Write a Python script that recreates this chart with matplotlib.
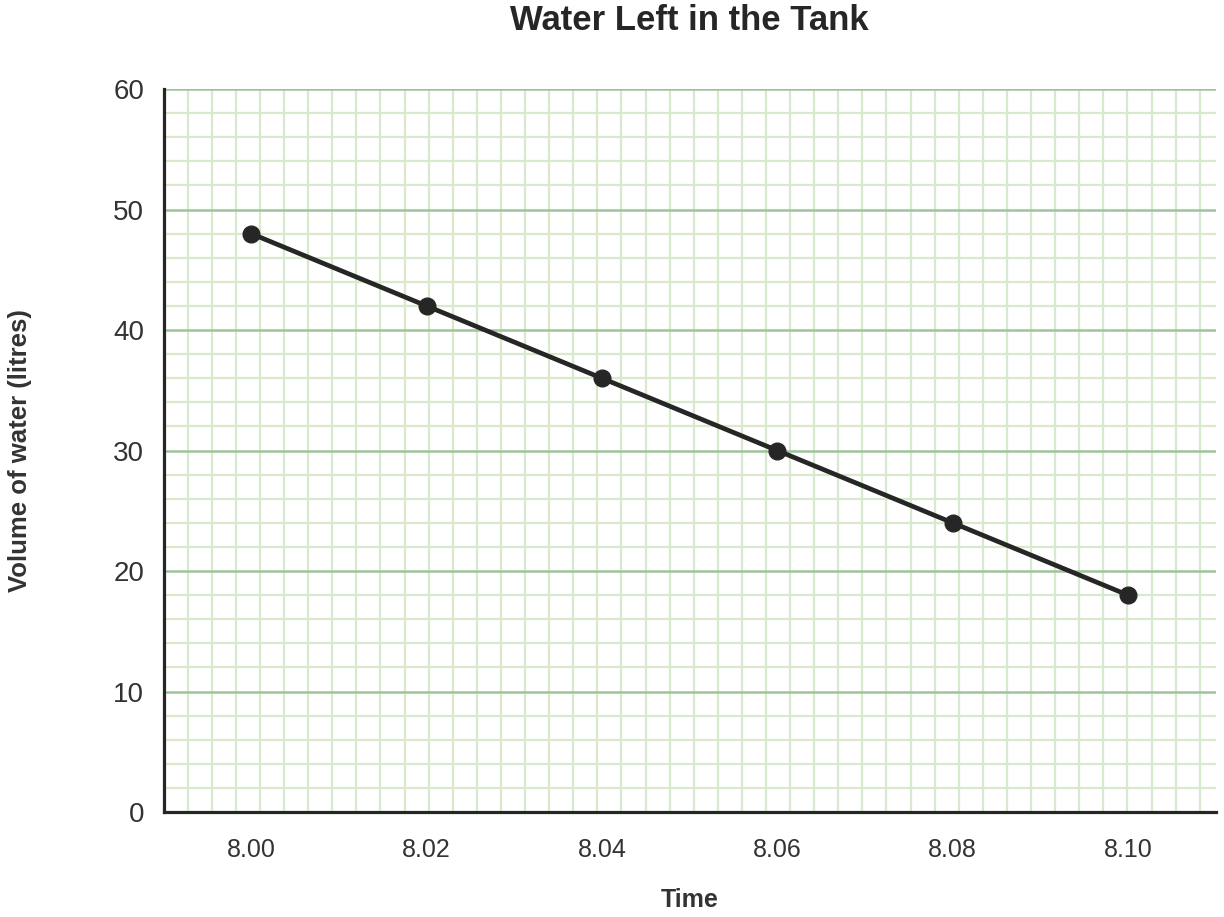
import numpy as np
import matplotlib
matplotlib.use('Agg')
import matplotlib.pyplot as plt
import matplotlib.ticker as plticker

times = [8.00, 8.02, 8.04, 8.06, 8.08, 8.10]
time_labels = ['8.00', '8.02', '8.04', '8.06', '8.08', '8.10']
volumes = [48, 42, 36, 30, 24, 18]

plt.rcParams['font.family'] = ['Liberation Sans', 'DejaVu Sans']

fig = plt.figure(figsize=(12.24, 9.17), dpi=100)
ax = fig.add_axes([0.1336, 0.1145, 0.8596, 0.7884])

ax.set_xlim(7.99, 8.11)
ax.set_ylim(0, 60)

# square graph paper: one cell is 2 litres tall, same width in pixels
cell_x = 0.12 * (2 / 60) * (0.7884 * 917) / (0.8596 * 1224)
ax.xaxis.set_major_locator(plticker.FixedLocator(times))
ax.xaxis.set_major_formatter(plticker.FixedFormatter(time_labels))
ax.xaxis.set_minor_locator(plticker.FixedLocator(np.arange(7.99 + cell_x, 8.11, cell_x)))
ax.yaxis.set_major_locator(plticker.MultipleLocator(10))
ax.yaxis.set_minor_locator(plticker.MultipleLocator(2))

ax.grid(which='minor', axis='both', color='#d8eacb', linewidth=1.6)
ax.grid(which='major', axis='y', color='#9dc59b', linewidth=1.8)
ax.grid(which='major', axis='x', visible=False)
ax.set_axisbelow(True)

ax.plot(times, volumes, color='#262626', linewidth=3.4, marker='o',
        markersize=12, zorder=3, clip_on=False)

for side in ['top', 'right']:
    ax.spines[side].set_visible(False)
for side in ['left', 'bottom']:
    ax.spines[side].set_color('#262626')
    ax.spines[side].set_linewidth(2.3)
    ax.spines[side].set_zorder(4)

ax.tick_params(which='both', length=0)
ax.tick_params(axis='x', labelsize=18, pad=19, colors='#333333')
ax.tick_params(axis='y', labelsize=20, pad=14, colors='#333333')

fig.text(0.5634, 0.978, 'Water Left in the Tank', fontsize=25, fontweight='bold',
         color='#262626', ha='center', va='center')
fig.text(0.5634, 0.0185, 'Time', fontsize=18, fontweight='bold',
         color='#333333', ha='center', va='center')
fig.text(0.0165, 0.1145 + 0.7884 / 2, 'Volume of water (litres)', fontsize=18.5,
         fontweight='bold', color='#333333', ha='center', va='center', rotation=90)

fig.savefig('out.png', dpi=100)
